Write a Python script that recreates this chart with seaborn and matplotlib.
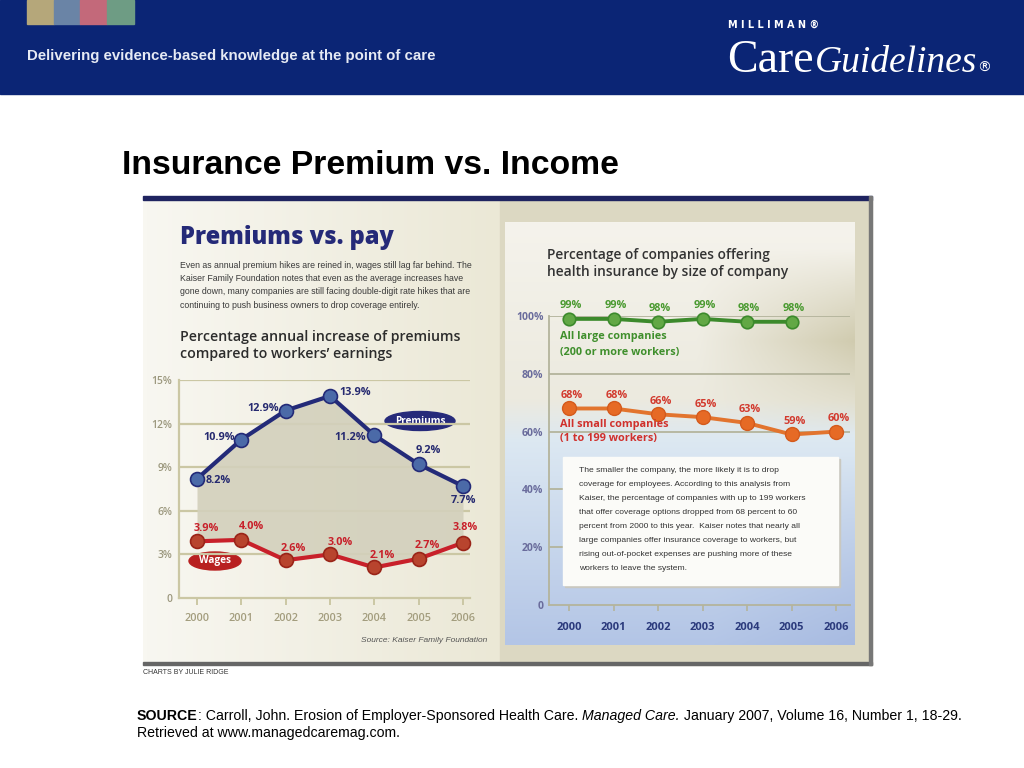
import numpy as np
import pandas as pd
import seaborn as sns
import matplotlib.pyplot as plt
from matplotlib.patches import Rectangle, Ellipse
from matplotlib.colors import to_rgb

# ---- data ----
years = [2000, 2001, 2002, 2003, 2004, 2005, 2006]
premiums = [8.2, 10.9, 12.9, 13.9, 11.2, 9.2, 7.7]
wages = [3.9, 4.0, 2.6, 3.0, 2.1, 2.7, 3.8]
large_years = [2000, 2001, 2002, 2003, 2004, 2005]
large_cos = [99, 99, 98, 99, 98, 98]
small_cos = [68, 68, 66, 65, 63, 59, 60]
left_yticks = [0, 3, 6, 9, 12, 15]
left_ylabels = ['0', '3%', '6%', '9%', '12%', '15%']
right_yticks = [0, 20, 40, 60, 80, 100]
right_ylabels = ['0', '20%', '40%', '60%', '80%', '100%']

W, H = 1024, 768
fig = plt.figure(figsize=(10.24, 7.68), dpi=100)
fig.patch.set_facecolor('white')

# background axes in pixel coordinates (y down)
bg = fig.add_axes([0, 0, 1, 1], zorder=0)
bg.axis('off')


def px_axes(x0, y0, x1, y1, z=2):
    ax = fig.add_axes([x0 / W, 1 - y1 / H, (x1 - x0) / W, (y1 - y0) / H], zorder=z)
    ax.set_facecolor('none')
    return ax


def blend(c1, c2, t):
    a, b = np.array(to_rgb(c1)), np.array(to_rgb(c2))
    return a + (b - a) * t


# ---- header band ----
bg.add_patch(Rectangle((0, 0), 1024, 94, color='#0b2575', zorder=1))
for i, c in enumerate(['#b5a77a', '#6a84a6', '#c3697a', '#6e9c84']):
    bg.add_patch(Rectangle((27 + i * 26.7, 0), 26.7, 24, color=c, zorder=2))
bg.text(27, 56, 'Delivering evidence-based knowledge at the point of care',
        color='#e6eaf4', fontsize=10.8, fontweight='bold', family='Liberation Sans',
        va='center', ha='left', zorder=3)
bg.text(728, 25, 'M I L L I M A N ®', color='white', fontsize=7, fontweight='bold',
        family='DejaVu Sans', va='center', zorder=3)

# ---- slide title ----
bg.text(122, 165, 'Insurance Premium vs. Income', fontsize=24.3, fontweight='bold',
        family='Liberation Sans', va='center', ha='left', color='black')

# ---- embedded graphic background ----
left_grad = np.zeros((10, 100, 3))
for j in range(100):
    left_grad[:, j] = blend('#f8f7f1', '#ebe8d6', j / 99)
bg.imshow(left_grad, extent=(143, 500, 665, 199), aspect='auto', zorder=1)
bg.add_patch(Rectangle((500, 199), 372, 466, color='#dcd8c2', zorder=1))

gh, gw = 200, 120
grad = np.zeros((gh, gw, 3))
for i in range(gh):
    t = i / (gh - 1)
    if t < 0.42:
        col = blend('#f5f3ec', '#eceadf', t / 0.42)
    elif t < 0.52:
        col = blend('#eceadf', '#dce8f2', (t - 0.42) / 0.10)
    else:
        col = blend('#dce8f2', '#b3c5e6', (t - 0.52) / 0.48)
    for j in range(gw):
        u = j / (gw - 1)
        w = max(0, (u - 0.55) / 0.45) * max(0, 1 - abs(t - 0.28) / 0.22) * 0.75
        c2 = col * (1 - w) + np.array(to_rgb('#c6c09e')) * w
        wb = max(0, (u - 0.6) / 0.4) * max(0, (t - 0.55) / 0.45) * 0.35
        grad[i, j] = c2 * (1 - wb) + np.array(to_rgb('#93a8d8')) * wb
bg.imshow(grad, extent=(505, 855, 645, 222), aspect='auto', zorder=2)

bg.add_patch(Rectangle((143, 196), 729, 4, color='#1f2460', zorder=3))
bg.add_patch(Rectangle((143, 662), 729, 2.5, color='#666666', zorder=3))
bg.add_patch(Rectangle((869, 196), 3, 469, color='#777777', zorder=3))

# ---- left panel texts ----
bg.text(180, 237, 'Premiums vs. pay', color='#252a78', fontsize=17, fontweight=800,
        family='Open Sans', va='center', zorder=4)
para_left = ['Even as annual premium hikes are reined in, wages still lag far behind. The',
             'Kaiser Family Foundation notes that even as the average increases have',
             'gone down, many companies are still facing double-digit rate hikes that are',
             'continuing to push business owners to drop coverage entirely.']
for k, line in enumerate(para_left):
    bg.text(180, 265 + k * 13.5, line, color='#3a3a3a', fontsize=6.3,
            family='Liberation Sans', va='center', zorder=4)
bg.text(180, 337, 'Percentage annual increase of premiums', color='#2c2c2c', fontsize=10.2,
        fontweight='semibold', family='Open Sans', va='center', zorder=4)
bg.text(180, 354, 'compared to workers\u2019 earnings', color='#2c2c2c', fontsize=10.2,
        fontweight='semibold', family='Open Sans', va='center', zorder=4)
bg.text(487, 640, 'Source: Kaiser Family Foundation', color='#555555', fontsize=6,
        style='italic', family='Liberation Sans', ha='right', va='center', zorder=4)
bg.text(143, 672, 'CHARTS BY JULIE RIDGE', color='#333333', fontsize=5,
        family='Liberation Sans', va='center', zorder=4)

# ---- right panel texts ----
bg.text(547, 255, 'Percentage of companies offering', color='#333333', fontsize=9.9,
        fontweight='semibold', family='Open Sans', va='center', zorder=4)
bg.text(547, 272, 'health insurance by size of company', color='#333333', fontsize=9.9,
        fontweight='semibold', family='Open Sans', va='center', zorder=4)

# ---- left chart ----
pxy = (463 - 197) / 6
axL = px_axes(179, 380, 470, 598)
axL.set_xlim(2000 - (197 - 179) / pxy, 2006 + (470 - 463) / pxy)
axL.set_ylim(0, 15)
grid_c = '#cbc7a4'
for v in left_yticks[1:]:
    axL.axhline(v, color=grid_c, lw=1.6, zorder=0)
axL.fill_between(years, wages, premiums, color='#d3d0bc', alpha=0.9, lw=0, zorder=1)
df_left = pd.DataFrame({'year': years, 'premiums': premiums, 'wages': wages})
sns.lineplot(data=df_left, x='year', y='premiums', ax=axL, color='#232a78', lw=3,
             marker='o', markersize=10, markerfacecolor='#4b6aa8', markeredgecolor='#232a78',
             markeredgewidth=1.2, clip_on=False, zorder=3)
sns.lineplot(data=df_left, x='year', y='wages', ax=axL, color='#c8202a', lw=3,
             marker='o', markersize=10, markerfacecolor='#b8442e', markeredgecolor='#9a2418',
             markeredgewidth=1.2, clip_on=False, zorder=3)
prem_off = [(9, -2, 'left'), (-6, 2, 'right'), (-7, 2, 'right'), (9, 3, 'left'),
            (-8, -2, 'right'), (10, 14, 'center'), (0, -14, 'center')]
for x, v, (dx, dy, ha) in zip(years, premiums, prem_off):
    axL.annotate(f'{v:.1f}%', (x, v), xytext=(dx, dy), textcoords='offset pixels',
                 ha=ha, va='center', color='#262a70', fontsize=7.8, fontweight='bold',
                 family='Open Sans', zorder=5)
wage_off = [(9, 13), (10, 13), (8, 12), (10, 12), (8, 12), (9, 13), (2, 15)]
for x, v, (dx, dy) in zip(years, wages, wage_off):
    axL.annotate(f'{v:.1f}%', (x, v), xytext=(dx, dy), textcoords='offset pixels',
                 ha='center', va='center', color='#c8202a', fontsize=7.8, fontweight='bold',
                 family='Open Sans', zorder=5)
axL.set_yticks(left_yticks, left_ylabels)
axL.set_xticks(years, [str(y) for y in years])
axL.tick_params(axis='y', length=0, pad=5, labelsize=7.5, labelcolor='#9c987e')
axL.tick_params(axis='x', length=5, width=1.4, color=grid_c, pad=6, labelsize=7.8,
                labelcolor='#a39d7e')
for lab in axL.get_xticklabels() + axL.get_yticklabels():
    lab.set_family('Open Sans')
    lab.set_fontweight('semibold')
for s in ['top', 'right']:
    axL.spines[s].set_visible(False)
for s in ['left', 'bottom']:
    axL.spines[s].set_color(grid_c)
    axL.spines[s].set_linewidth(1.6)
axL.set_xlabel('')
axL.set_ylabel('')

# legend ellipses
bg.add_patch(Ellipse((420, 421), 70, 19, color='#262a7a', zorder=4))
bg.text(420, 421, 'Premiums', color='white', fontsize=7.2, fontweight='bold',
        family='Open Sans', ha='center', va='center', zorder=5)
bg.add_patch(Ellipse((215, 561), 52, 18, color='#b82020', zorder=4))
bg.text(215, 561, 'Wages', color='white', fontsize=7.2, fontweight='bold',
        family='Open Sans', ha='center', va='center', zorder=5)

# ---- right chart ----
pxr = (836 - 569) / 6
axR = px_axes(549, 316, 850, 605)
axR.set_xlim(2000 - (569 - 549) / pxr, 2006 + (850 - 836) / pxr)
axR.set_ylim(0, 100)
rgrid = '#b4b49c'
for v in [60, 80, 100]:
    axR.axhline(v, color=rgrid, lw=1.3, zorder=0)
for v in [20, 40]:
    axR.axhline(v, xmin=0, xmax=0.06, color=rgrid, lw=1.3, zorder=0)
df_large = pd.DataFrame({'year': large_years, 'pct': large_cos})
df_small = pd.DataFrame({'year': years, 'pct': small_cos})
sns.lineplot(data=df_large, x='year', y='pct', ax=axR, color='#3c8a2c', lw=2.8,
             marker='o', markersize=9, markerfacecolor='#62a845', markeredgecolor='#3c8a2c',
             markeredgewidth=1.2, clip_on=False, zorder=3)
sns.lineplot(data=df_small, x='year', y='pct', ax=axR, color='#e2742e', lw=2.8,
             marker='o', markersize=10, markerfacecolor='#e66a25', markeredgecolor='#d45a1c',
             markeredgewidth=1.0, clip_on=False, zorder=3)
for x, v in zip(large_years, large_cos):
    axR.annotate(f'{v}%', (x, v), xytext=(2, 13), textcoords='offset pixels',
                 ha='center', va='center', color='#4a9a30', fontsize=7.8, fontweight='bold',
                 family='Open Sans', zorder=5)
for x, v in zip(years, small_cos):
    axR.annotate(f'{v}%', (x, v), xytext=(3, 13), textcoords='offset pixels',
                 ha='center', va='center', color='#d23a2e', fontsize=7.8, fontweight='bold',
                 family='Open Sans', zorder=5)
axR.set_yticks(right_yticks, right_ylabels)
axR.set_xticks(years, [str(y) for y in years])
axR.tick_params(axis='y', length=0, pad=4, labelsize=7.5, labelcolor='#6a6c9c')
axR.tick_params(axis='x', length=4, width=1.2, color=rgrid, pad=8, labelsize=8,
                labelcolor='#2b3a7c')
for lab in axR.get_xticklabels() + axR.get_yticklabels():
    lab.set_family('Open Sans')
    lab.set_fontweight('bold')
for s in ['top', 'right']:
    axR.spines[s].set_visible(False)
for s in ['left', 'bottom']:
    axR.spines[s].set_color(rgrid)
    axR.spines[s].set_linewidth(1.3)
axR.set_xlabel('')
axR.set_ylabel('')

# overlay for labels / text box above the right chart
fg = fig.add_axes([0, 0, 1, 1], zorder=4)
fg.axis('off')
fg.set_facecolor('none')
fg.text(560, 337, 'All large companies', color='#3f8f2c', fontsize=7.8, fontweight='bold',
        family='Open Sans', va='center')
fg.text(560, 352, '(200 or more workers)', color='#3f8f2c', fontsize=7.8, fontweight='bold',
        family='Open Sans', va='center')
fg.text(560, 424, 'All small companies', color='#d0302c', fontsize=7.8, fontweight='bold',
        family='Open Sans', va='center')
fg.text(560, 438, '(1 to 199 workers)', color='#d0302c', fontsize=7.8, fontweight='bold',
        family='Open Sans', va='center')
fg.add_patch(Rectangle((565, 459), 275, 128, color='#c9c8c0', zorder=1))
fg.add_patch(Rectangle((563, 457), 275, 128, color='#fbfbf8', zorder=2))
para_right = ['The smaller the company, the more likely it is to drop',
              'coverage for employees. According to this analysis from',
              'Kaiser, the percentage of companies with up to 199 workers',
              'that offer coverage options dropped from 68 percent to 60',
              'percent from 2000 to this year.  Kaiser notes that nearly all',
              'large companies offer insurance coverage to workers, but',
              'rising out-of-pocket expenses are pushing more of these',
              'workers to leave the system.']
for k, line in enumerate(para_right):
    fg.text(579, 470 + k * 14, line, color='#333333', fontsize=6.1,
            family='Liberation Sans', va='center', zorder=3)

fg.set_xlim(0, W)
fg.set_ylim(H, 0)
bg.set_xlim(0, W)
bg.set_ylim(H, 0)

# ---- sequential texts (logo and footer) ----
fig.canvas.draw()
r = fig.canvas.get_renderer()


def run_text(ax, x, y, pieces):
    for s, kw in pieces:
        t = ax.text(x, y, s, va='baseline', ha='left', zorder=5, **kw)
        x += t.get_window_extent(renderer=r).width
    return x


run_text(bg, 727, 72, [('Care', dict(color='white', fontsize=33, family='Liberation Serif')),
                       (' ', dict(color='white', fontsize=4, family='Liberation Serif')),
                       ('Guidelines', dict(color='white', fontsize=27, style='italic',
                                           family='Liberation Serif')),
                       ('®', dict(color='white', fontsize=10, family='DejaVu Sans'))])

foot = dict(color='black', fontsize=10.2, family='Liberation Sans')
run_text(bg, 137, 720, [('SOURCE', dict(foot, fontweight='bold')),
                        (': Carroll, John. Erosion of Employer-Sponsored Health Care. ', foot),
                        ('Managed Care.', dict(foot, style='italic')),
                        (' January 2007, Volume 16, Number 1, 18-29.', foot)])
bg.text(137, 737, 'Retrieved at www.managedcaremag.com.', va='baseline', **foot)

fig.savefig('out.png', dpi=100)
